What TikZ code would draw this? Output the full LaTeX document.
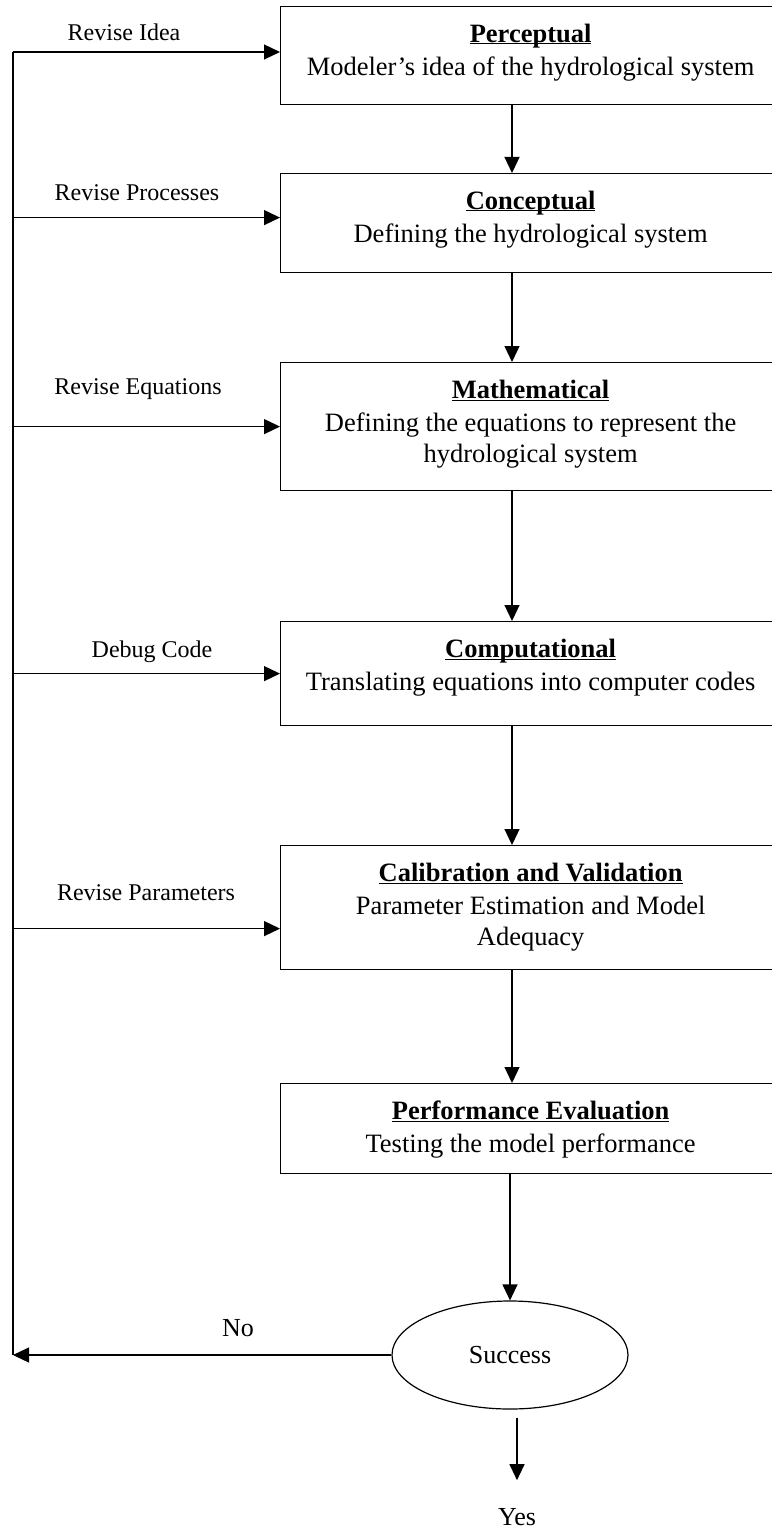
\documentclass[tikz,border=0pt]{standalone}
\usepackage{fontspec}
\setmainfont{Liberation Serif}
\usetikzlibrary{arrows.meta, positioning, shapes.geometric}
\newcommand{\hdr}[1]{\strut\underline{\raisebox{0pt}[\height][0pt]{\textbf{#1}}}}
\newcommand{\stg}[3]{\parbox[c][#1][t]{480pt}{\centering\hdr{#2}\\[2pt]#3}}
\tikzset{
  stagebox/.style={draw, line width=1.2pt, anchor=north west, inner xsep=10pt,
                   inner ysep=14pt, font=\fontsize{26.5}{31}\selectfont},
  decision/.style={draw, ellipse, line width=1.2pt, minimum width=236pt,
                   minimum height=108pt, inner sep=0pt, font=\fontsize{26}{30}\selectfont},
  sidelbl/.style={inner sep=0pt, font=\fontsize{24}{28}\selectfont},
  endlbl/.style={inner sep=0pt, font=\fontsize{26}{30}\selectfont},
  farr/.style={-{Triangle[length=16pt, width=15pt]}, line width=1.2pt},
  fline/.style={line width=1.2pt},
}
\begin{document}
\begin{tikzpicture}[x=1pt, y=-1pt]
\useasboundingbox (0,0) rectangle (771,1530);
% modelling stages
\node[stagebox] (perc) at (280,6)
  {\stg{70pt}{Perceptual}{Modeler’s idea of the hydrological system}};
\node[stagebox] (conc) at (280,173)
  {\stg{71pt}{Conceptual}{Defining the hydrological system}};
\node[stagebox] (math) at (280,362)
  {\stg{100pt}{Mathematical}{Defining the equations to represent the\\hydrological system}};
\node[stagebox] (comp) at (280,621)
  {\stg{76pt}{Computational}{Translating equations into computer codes}};
\node[stagebox] (cal) at (280,845)
  {\stg{96pt}{Calibration and Validation}{Parameter Estimation and Model\\Adequacy}};
\node[stagebox] (perf) at (280,1083)
  {\stg{62pt}{Performance Evaluation}{Testing the model performance}};
\node[decision] (succ) at (510,1355) {Success};
\node[endlbl] (yes) at (517,1517) {Yes};
\node[endlbl] (no) at (238,1328) {No};
% main flow
\coordinate (spine) at (512,0);
\draw[farr] (perc.south -| spine) -- (conc.north -| spine);
\draw[farr] (conc.south -| spine) -- (math.north -| spine);
\draw[farr] (math.south -| spine) -- (comp.north -| spine);
\draw[farr] (comp.south -| spine) -- (cal.north -| spine);
\draw[farr] (cal.south -| spine) -- (perf.north -| spine);
\draw[farr] (perf.south -| succ.north) -- (succ.north);
\draw[farr, shorten <=8pt, shorten >=28pt] (succ.south -| yes) -- (yes.north);
% feedback rail
\coordinate (rail) at (13,52);
\coordinate (conc-in) at ([yshift=5.5pt]conc.west);
\coordinate (cal-in) at ([yshift=-21pt]cal.west);
\draw[farr] (succ.west) -- (succ.west -| rail);
\draw[fline] (rail) -- (rail |- succ.west);
\draw[farr] (rail) -- (rail -| perc.west);
\draw[farr] (rail |- conc-in) -- (conc-in);
\draw[farr] (rail |- math.west) -- (math.west);
\draw[farr] (rail |- comp.west) -- (comp.west);
\draw[farr] (rail |- cal-in) -- (cal-in);
\node[sidelbl] (l-idea) at (124,32) {Revise Idea};
\node[sidelbl] (l-proc) at (137,193) {Revise Processes};
\node[sidelbl] (l-eq) at (138,389) {Revise Equations};
\node[sidelbl] (l-dbg) at (152,652) {Debug Code};
\node[sidelbl] (l-par) at (146,893) {Revise Parameters};
\end{tikzpicture}
\end{document}
